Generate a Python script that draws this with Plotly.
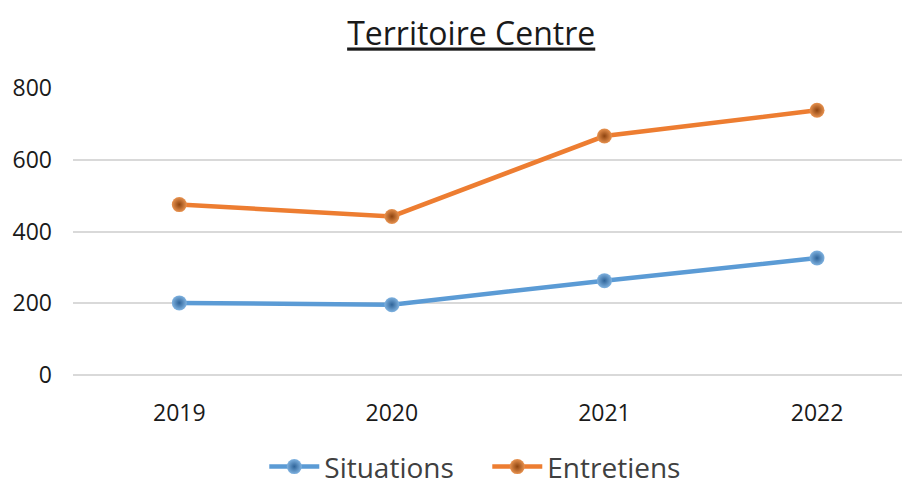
import plotly.graph_objects as go

# données
annees = ["2019", "2020", "2021", "2022"]
situations = [201, 196, 263, 326]
entretiens = [475, 442, 666, 738]

fig = go.Figure()

fig.add_trace(go.Scatter(
    x=annees, y=situations, name="Situations", mode="lines+markers",
    line=dict(color="#5B9BD5", width=4.5),
    marker=dict(size=15, color="#7FB2E0", line=dict(width=0),
                gradient=dict(type="radial", color="#2F6499"))
))
fig.add_trace(go.Scatter(
    x=annees, y=entretiens, name="Entretiens", mode="lines+markers",
    line=dict(color="#ED7D31", width=4.5),
    marker=dict(size=15, color="#E8924F", line=dict(width=0),
                gradient=dict(type="radial", color="#8E4410"))
))

# la page ajoute 8px de marge (body), on compense ici
fig.update_layout(
    width=910, height=478,
    margin=dict(l=65, r=0, t=80, b=111, autoexpand=False),
    paper_bgcolor="white", plot_bgcolor="white",
    font=dict(family="Open Sans", color="#404040", size=23),
    title=dict(text="<u>Territoire Centre</u>", x=0.509, xanchor="center",
               y=0.945, yanchor="middle",
               font=dict(family="Open Sans", size=32, color="#1a1a1a")),
    showlegend=True,
    legend=dict(orientation="h", x=206 / 910, xanchor="left", yref="container",
                y=0.04, yanchor="middle", entrywidth=158,
                font=dict(size=28, color="#404040"), itemwidth=50, traceorder="normal"),
)
fig.update_xaxes(range=[-0.5, 3.475], showgrid=False, showline=False, zeroline=False,
                 automargin=False, ticks="", ticklabelstandoff=22,
                 tickfont=dict(size=23, color="#1a1a1a"))
fig.update_yaxes(range=[0, 800], dtick=200, showgrid=True, gridcolor="#D9D9D9", gridwidth=1.5,
                 zeroline=True, zerolinecolor="#D9D9D9", zerolinewidth=1.5, showline=False,
                 automargin=False, ticks="", ticklabelstandoff=20,
                 tickfont=dict(size=23, color="#1a1a1a"))

fig.write_html("out.html")
